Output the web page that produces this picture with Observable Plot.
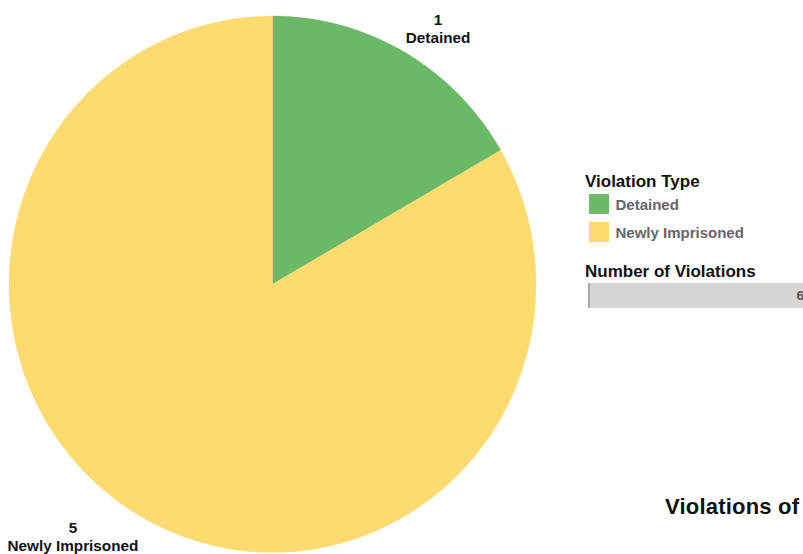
<!DOCTYPE html>
<html>
<head>
<meta charset="utf-8">
<script src="https://cdn.jsdelivr.net/npm/d3@7"></script>
<script src="https://cdn.jsdelivr.net/npm/@observablehq/plot@0.6"></script>
<style>
  html, body { margin: 0; padding: 0; background: #fff; overflow: hidden; }
  #wrap { position: relative; width: 803px; height: 554px; overflow: hidden; font-family: "Liberation Sans", Arial, sans-serif; }
  #wrap svg { position: absolute; left: 0; top: 0; }
  .abs { position: absolute; white-space: nowrap; font-weight: bold; }
  .ltitle { font-size: 17px; line-height: 17px; color: #111; }
  .ltext { font-size: 15px; line-height: 15px; color: #666; }
  .sw { position: absolute; width: 20px; height: 20px; }
  .bar { position: absolute; left: 588px; top: 283px; width: 215px; height: 25px; background: #d6d6d6; border-left: 2px solid #a9a9a9; box-sizing: border-box; }
  .barval { position: absolute; right: -1px; top: 6px; font-weight: bold; font-size: 13.5px; line-height: 13px; color: #555; }
  .title { font-size: 22px; line-height: 22px; color: #111; letter-spacing: 0.2px; }
</style>
</head>
<body>
<div id="wrap"></div>
<script>
const categories = ["Detained", "Newly Imprisoned"];
const values = [1, 5];
const colors = ["#6bb867", "#fedb70"];
const legendTitle = "Violation Type";
const sizeTitle = "Number of Violations";
const chartTitle = "Violations of";

const total = d3.sum(values);
const arcs = d3.pie().sort(null).value(d => d)(values);

// polygon points for each slice (angle measured clockwise from 12 o'clock)
const polyPts = [];
arcs.forEach((a, i) => {
  polyPts.push({cat: categories[i], x: 0, y: 0});
  const n = 160;
  for (let k = 0; k <= n; k++) {
    const t = a.startAngle + (a.endAngle - a.startAngle) * k / n;
    polyPts.push({cat: categories[i], x: Math.sin(t), y: Math.cos(t)});
  }
  polyPts.push({cat: categories[i], x: 0, y: 0});
});

const labelR = 1.12;
const labels = arcs.map((a, i) => {
  const m = (a.startAngle + a.endAngle) / 2;
  return {cat: categories[i], value: values[i], x: labelR * Math.sin(m), y: labelR * Math.cos(m), text: values[i] + "\n" + categories[i]};
});

const textOpts = {x: "x", y: "y", text: "text", fontWeight: "bold", fontSize: 15.3, fill: "#111", lineHeight: 1.18, fontFamily: "Liberation Sans, Arial, sans-serif"};

const chart = Plot.plot({
  width: 803,
  height: 554,
  margin: 0,
  x: {domain: [-1, 1], range: [8.5, 535.5], axis: null},
  y: {domain: [-1, 1], range: [552, 15.5], axis: null},
  color: {domain: categories, range: colors},
  marks: [
    Plot.line(polyPts, {x: "x", y: "y", z: "cat", fill: "cat", stroke: "cat", strokeWidth: 0.3, curve: "linear"}),
    Plot.text(labels.filter(d => d.cat === "Detained"), {...textOpts, dx: 18, dy: 4}),
    Plot.text(labels.filter(d => d.cat === "Newly Imprisoned"), {...textOpts, dx: -52, dy: -8})
  ]
});

const wrap = document.getElementById("wrap");
wrap.appendChild(chart);

function addDiv(cls, text, left, top, extra) {
  const d = document.createElement("div");
  d.className = "abs " + cls;
  d.textContent = text;
  d.style.left = left + "px";
  d.style.top = top + "px";
  if (extra) Object.assign(d.style, extra);
  wrap.appendChild(d);
  return d;
}

addDiv("ltitle", legendTitle, 585, 173);
categories.forEach((c, i) => {
  const sw = document.createElement("div");
  sw.className = "sw";
  sw.style.left = "589px";
  sw.style.top = (194 + i * 28) + "px";
  sw.style.background = colors[i];
  wrap.appendChild(sw);
  addDiv("ltext", c, 615.5, 197 + i * 28);
});
addDiv("ltitle", sizeTitle, 585, 263);

const bar = document.createElement("div");
bar.className = "bar";
bar.innerHTML = `<span class="barval">${total}</span>`;
wrap.appendChild(bar);

addDiv("title", chartTitle, 665, 495.5);
</script>
</body>
</html>
